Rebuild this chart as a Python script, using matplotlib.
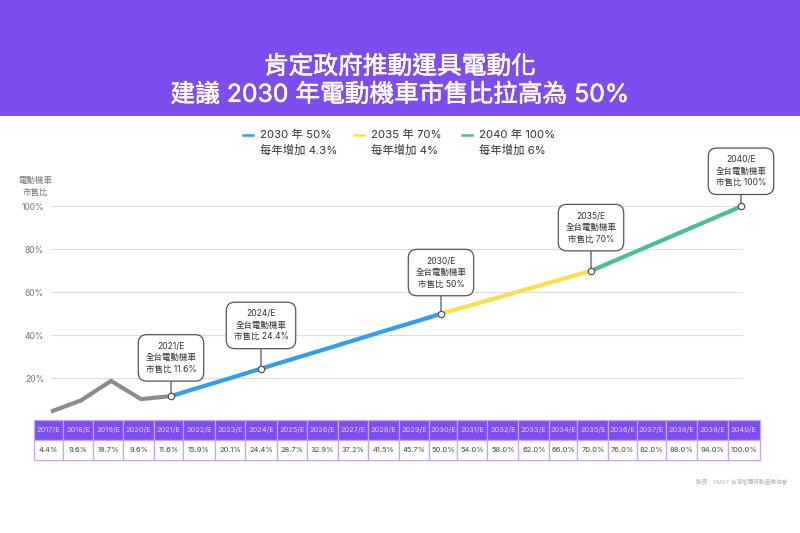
#!/usr/bin/env python3
import matplotlib; matplotlib.use('Agg')
import matplotlib.pyplot as plt
import matplotlib.patheffects as pe
from matplotlib.lines import Line2D
from matplotlib.patches import Rectangle

plt.rcParams['font.family'] = ['Inter', 'Noto Sans CJK TC', 'DejaVu Sans']

W, H = 800, 533
PURPLE = '#7C4DEF'; EDGE = '#C3A6FB'
GRAY = '#8C8C8C'; BLUE = '#2F9EF4'; YELLOW = '#FBDF4A'; GREEN = '#4CBD9A'

title_lines = ['肯定政府推動運具電動化', '建議 2030 年電動機車市售比拉高為 50%']
years = list(range(2017, 2041))
year_labels = [f'{y}/E' for y in years]
# table figures, as printed
table_values = [4.4, 9.6, 18.7, 9.6, 11.6, 15.9, 20.1, 24.4, 28.7, 32.9, 37.2, 41.5,
                45.7, 50.0, 54.0, 58.0, 62.0, 66.0, 70.0, 76.0, 82.0, 88.0, 94.0, 100.0]
# the line itself sits a bit off the table at 2020
line_values = list(table_values); line_values[3] = 10.2
col_edges = [33.7, 63.3, 93.3, 123, 154.3, 183.3, 214.7, 245.3, 276.7, 307.3, 338, 368, 399,
             429.3, 457.3, 487.3, 518.3, 549.3, 577.3, 608.3, 636.7, 665.7, 696.7, 728.3, 759.7]
y_ticks = [20, 40, 60, 80, 100]
segments = [(2017, 2021, GRAY), (2021, 2030, BLUE), (2030, 2035, YELLOW), (2035, 2040, GREEN)]
legend_items = [(243, '2030 年 50%', '每年增加 4.3%', BLUE),
                (354, '2035 年 70%', '每年增加 4%', YELLOW),
                (462, '2040 年 100%', '每年增加 6%', GREEN)]
callouts = [(2021, 11.6, '2021/E\n全台電動機車\n市售比 11.6%'),
            (2024, 24.4, '2024/E\n全台電動機車\n市售比 24.4%'),
            (2030, 50.0, '2030/E\n全台電動機車\n市售比 50%'),
            (2035, 70.0, '2035/E\n全台電動機車\n市售比 70%'),
            (2040, 100.0, '2040/E\n全台電動機車\n市售比 100%')]
# stem length under each box, px
stems = [15, 20, 18, 20, 12]

fig = plt.figure(figsize=(W/100, H/100), dpi=100, facecolor='white')

# ── overlay in pixel coords: banner, legend, notes, table ──
bg = fig.add_axes([0, 0, 1, 1]); bg.set_xlim(0, W); bg.set_ylim(H, 0); bg.axis('off')
bg.add_patch(Rectangle((0, 0), W, 116, fc=PURPLE, ec='none'))
for yy, t in zip((67, 95), title_lines):
    bg.text(400, yy, t, color='white', fontsize=17.8, ha='center', va='center',
            path_effects=[pe.withStroke(linewidth=0.4, foreground='white')])
for x0, a, b, c in legend_items:
    bg.add_line(Line2D([x0, x0+10], [135, 135], color=c, lw=1.8))
    bg.text(x0+17, 135, a, fontsize=8.2, color='#333333', va='center')
    bg.text(x0+17, 150.5, b, fontsize=8.2, color='#333333', va='center')
bg.text(35, 180, '電動機車', fontsize=6.1, color='#777777', ha='center', va='center')
bg.text(35, 192, '市售比', fontsize=6.1, color='#777777', ha='center', va='center')
bg.text(787, 482, '製表：SMAT 台灣智慧移動產業協會', fontsize=4.1, color='#B5B5B5', ha='right', va='center')

widths = [(b-a)/(col_edges[-1]-col_edges[0]) for a, b in zip(col_edges, col_edges[1:])]
tb_top, tb_bot = 420, 459.5
tb = bg.table(cellText=[[f'{v:.1f}%' for v in table_values]], colLabels=year_labels,
              colWidths=widths, cellLoc='center',
              bbox=[col_edges[0]/W, 1-tb_bot/H, (col_edges[-1]-col_edges[0])/W, (tb_bot-tb_top)/H])
tb.auto_set_font_size(False)
for (r, c), cell in tb.get_celld().items():
    cell.set_edgecolor(EDGE); cell.set_linewidth(0.9)
    if r == 0:
        cell.set_facecolor(PURPLE)
        cell.set_text_props(color='#E4D8FF', fontsize=5.4)
    else:
        cell.set_facecolor('white')
        cell.set_text_props(color='#444444', fontsize=5.4)

# ── line chart ──
left, right, top, bottom = 51, 743, 206.5, 421
ax = fig.add_axes([left/W, 1-bottom/H, (right-left)/W, (bottom-top)/H])
ax.patch.set_alpha(0)
ax.set_xlim(2017, 2017+(right-left)/30); ax.set_ylim(0, 100)
for s in ax.spines.values(): s.set_visible(False)
ax.set_xticks([])
ax.set_yticks(y_ticks, [f'{v}%' for v in y_ticks], fontsize=6.2, color='#777777')
ax.tick_params(axis='y', length=0, pad=5)
ax.grid(axis='y', color='#DEDEDE', lw=0.8)
ax.set_axisbelow(True)

for a, b, c in segments:
    i, j = years.index(a), years.index(b)
    ax.plot(years[i:j+1], line_values[i:j+1], color=c, lw=3, solid_capstyle='butt',
            solid_joinstyle='miter', clip_on=False, zorder=3)

PAD = 0.85; FS = 6.1
for (yr, val, txt), stem in zip(callouts, stems):
    off = stem*0.72 + PAD*FS
    ax.annotate(txt, xy=(yr, val), xytext=(0, off), textcoords='offset points',
                fontsize=FS, color='#333333', ha='center', va='bottom', multialignment='center',
                linespacing=1.36, zorder=5, annotation_clip=False,
                bbox=dict(boxstyle=f'round,pad={PAD},rounding_size=1.0', fc='white', ec='#555555', lw=0.9),
                arrowprops=dict(arrowstyle='-', color='#555555', lw=0.9, shrinkA=0, shrinkB=0,
                                relpos=(0.5, 0)))
    ax.plot([yr], [val], 'o', ms=4.6, mfc='white', mec='#555555', mew=0.9, clip_on=False, zorder=6)

fig.savefig('out.png', dpi=100)
